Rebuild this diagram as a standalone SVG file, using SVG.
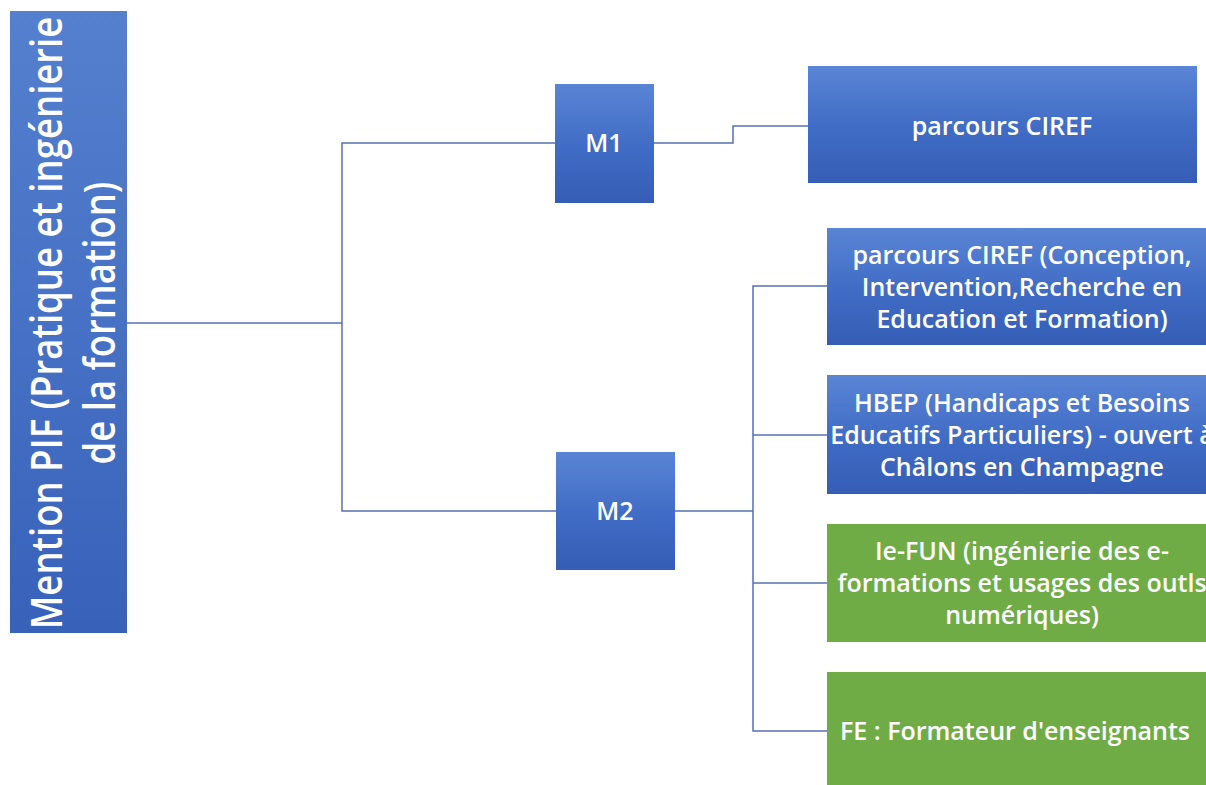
<svg xmlns="http://www.w3.org/2000/svg" width="1206" height="785" viewBox="0 0 1206 785">
  <defs>
    <linearGradient id="blueGrad" x1="0" y1="0" x2="0" y2="1">
      <stop offset="0" stop-color="#5a85d5"/>
      <stop offset="0.5" stop-color="#416dc6"/>
      <stop offset="1" stop-color="#355db5"/>
    </linearGradient>
    <linearGradient id="blueGradTall" x1="0" y1="0" x2="0" y2="1">
      <stop offset="0" stop-color="#5580cf"/>
      <stop offset="1" stop-color="#3862ba"/>
    </linearGradient>
    <style>
      .blue { fill: url(#blueGrad); }
      .green { fill: #70ac46; }
      .lbl { font-family: "Open Sans", "Liberation Sans", sans-serif; font-size: 25px; font-weight: 600; fill: #ffffff; text-anchor: middle; }
      .big { font-family: "Open Sans", "Liberation Sans", sans-serif; font-size: 36.5px; font-weight: 600; fill: #ffffff; text-anchor: middle; }
      .conn { fill: none; stroke: #5572b3; stroke-width: 1.5; }
    </style>
  </defs>
  <rect width="1206" height="785" fill="#ffffff"/>

  <g id="connectors">
    <polyline class="conn" points="127,323 342,323"/>
    <polyline class="conn" points="555,143 342,143 342,511 556,511"/>
    <polyline class="conn" points="654,143 733,143 733,126 808,126"/>
    <polyline class="conn" points="827,286 753,286 753,731 827,731"/>
    <polyline class="conn" points="675,511 753,511"/>
    <polyline class="conn" points="753,435 827,435"/>
    <polyline class="conn" points="753,583 827,583"/>
  </g>

  <g id="node-mention">
    <rect x="10" y="11" width="117" height="622" fill="url(#blueGradTall)"/>
    <g transform="translate(62,323) rotate(-90) scale(1,1.2)">
      <text class="big" x="0" y="0">Mention PIF (Pratique et ingénierie</text>
      <text class="big" x="0" y="44">de la formation)</text>
    </g>
  </g>

  <g id="node-m1">
    <rect class="blue" x="555" y="84" width="99" height="119"/>
    <text class="lbl" x="604" y="152">M1</text>
  </g>

  <g id="node-m2">
    <rect class="blue" x="556" y="452" width="119" height="118"/>
    <text class="lbl" x="615" y="520">M2</text>
  </g>

  <g id="node-ciref-m1">
    <rect class="blue" x="808" y="66" width="389" height="117"/>
    <text class="lbl" x="1002" y="135">parcours CIREF</text>
  </g>

  <g id="node-ciref-m2">
    <rect class="blue" x="827" y="228" width="392" height="117"/>
    <text class="lbl" x="1022" y="264">parcours CIREF (Conception,</text>
    <text class="lbl" x="1022" y="296">Intervention,Recherche en</text>
    <text class="lbl" x="1022" y="328">Education et Formation)</text>
  </g>

  <g id="node-hbep">
    <rect class="blue" x="827" y="375" width="392" height="119"/>
    <text class="lbl" x="1022" y="412">HBEP (Handicaps et Besoins</text>
    <text class="lbl" x="1022" y="444">Educatifs Particuliers) - ouvert à</text>
    <text class="lbl" x="1022" y="476">Châlons en Champagne</text>
  </g>

  <g id="node-iefun">
    <rect class="green" x="827" y="524" width="392" height="118"/>
    <text class="lbl" x="1022" y="560">Ie-FUN (ingénierie des e-</text>
    <text class="lbl" x="1022" y="592">formations et usages des outls</text>
    <text class="lbl" x="1022" y="624">numériques)</text>
  </g>

  <g id="node-fe">
    <rect class="green" x="827" y="672" width="392" height="118"/>
    <text class="lbl" x="1015" y="740">FE : Formateur d'enseignants</text>
  </g>
</svg>
